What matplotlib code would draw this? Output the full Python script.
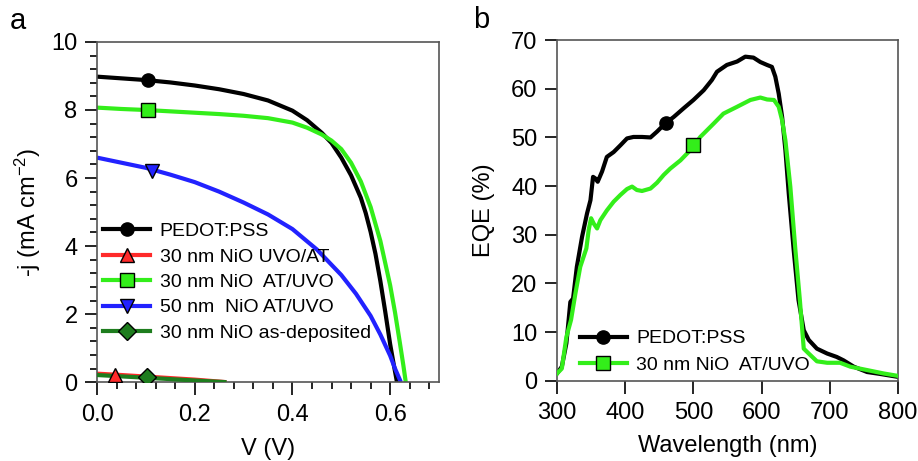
import matplotlib; matplotlib.use("Agg")
import matplotlib.pyplot as plt
from matplotlib.lines import Line2D
from matplotlib.ticker import MultipleLocator

plt.rcParams["font.family"] = ["Liberation Sans", "DejaVu Sans"]
plt.rcParams["mathtext.default"] = "regular"

# ---- panel a: J-V curves ----
v_pedot = [0, 0.05, 0.1, 0.15, 0.2, 0.25, 0.3, 0.35, 0.4, 0.43, 0.46, 0.48, 0.5, 0.52, 0.54, 0.55, 0.56, 0.57, 0.58, 0.59, 0.6, 0.607, 0.614]
j_pedot = [8.98, 8.93, 8.88, 8.81, 8.72, 8.61, 8.47, 8.28, 7.98, 7.70, 7.33, 7.03, 6.60, 6.08, 5.42, 4.97, 4.42, 3.77, 2.97, 2.07, 1.12, 0.55, 0]
v_at30 = [0, 0.05, 0.1, 0.15, 0.2, 0.25, 0.3, 0.35, 0.4, 0.43, 0.46, 0.48, 0.5, 0.52, 0.54, 0.56, 0.58, 0.6, 0.61, 0.62, 0.627, 0.632]
j_at30 = [8.07, 8.03, 8.00, 7.96, 7.92, 7.88, 7.83, 7.76, 7.63, 7.48, 7.28, 7.10, 6.85, 6.45, 5.90, 5.15, 4.15, 2.85, 2.05, 1.15, 0.50, 0]
v_at50 = [0, 0.05, 0.1, 0.15, 0.2, 0.25, 0.3, 0.35, 0.4, 0.45, 0.5, 0.53, 0.56, 0.58, 0.6, 0.61, 0.622]
j_at50 = [6.60, 6.45, 6.30, 6.10, 5.88, 5.60, 5.28, 4.93, 4.50, 3.90, 3.15, 2.60, 1.95, 1.40, 0.78, 0.40, 0]
v_low = [0, 0.05, 0.1, 0.15, 0.2, 0.265]
j_uvo = [0.25, 0.21, 0.165, 0.12, 0.075, 0]
j_asdep = [0.21, 0.17, 0.13, 0.09, 0.05, 0]

jv_labels = ["PEDOT:PSS", "30 nm NiO UVO/AT", "30 nm NiO  AT/UVO", "50 nm  NiO AT/UVO", "30 nm NiO as-deposited"]
jv_colors = ["black", "#ff2a2a", "#33ee1a", "#2222ff", "#1e7d1e"]
jv_markers = ["o", "^", "s", "v", "D"]
mark_v = [0.105, 0.037, 0.105, 0.113, 0.102]
mark_j = [8.88, 0.22, 8.00, 6.22, 0.14]

# ---- panel b: EQE ----
wl_pedot = [300, 307, 313.7, 317, 319.5, 323.5, 329, 336.7, 344, 349, 352.8, 356, 359.6, 366, 373, 383, 393, 402.6, 412, 424.6, 437, 446.6, 458.8, 471, 485.7, 500, 515, 527, 534.5, 549, 564, 576, 588, 598, 607.8, 615, 620, 625, 630, 634.8, 639.7, 647, 654, 661.7, 669, 681, 696, 710, 720, 735, 754.6, 774, 800]
eqe_pedot = [1.5, 2.9, 7.7, 12.5, 16.2, 16.9, 23.4, 29.6, 34.4, 37.1, 41.9, 41.6, 40.9, 43, 46, 47, 48.4, 49.8, 50.1, 50.1, 50, 51.2, 52.9, 54.2, 56, 57.7, 59.7, 61.8, 63.5, 64.9, 65.6, 66.6, 66.4, 65.5, 64.9, 64.5, 62.5, 59, 54.2, 47.4, 38.5, 26.8, 16.6, 10.4, 8.4, 6.6, 5.6, 4.9, 4.2, 2.9, 1.8, 1.4, 0.8]
wl_nio = [300, 307, 313.7, 320.5, 327, 334, 343, 346.4, 349.9, 353.8, 358.7, 363.5, 373, 383, 393, 402.6, 410, 417, 424.6, 437, 446.6, 456.4, 466, 481, 495.5, 510, 530, 544, 564, 583.5, 598, 608, 618, 625, 630, 634.8, 642, 649.5, 656, 661.7, 669, 681, 696, 715, 730, 754.6, 779, 800]
eqe_nio = [1.5, 2.5, 9, 12.5, 18, 23.4, 27.2, 31, 33.4, 32.3, 31.3, 33, 35, 36.8, 38.2, 39.4, 39.9, 39.2, 39, 39.5, 40.7, 42.3, 43.6, 45.3, 47.4, 50.1, 52.9, 54.9, 56.3, 57.7, 58.2, 57.8, 57.7, 56.3, 53.5, 49.4, 39.9, 26.8, 16.6, 6.6, 5.6, 4.0, 3.7, 3.7, 2.9, 2.2, 1.5, 1.0]
eqe_labels = ["PEDOT:PSS", "30 nm NiO  AT/UVO"]
eqe_colors = ["black", "#33ee1a"]
eqe_markers = ["o", "s"]
eqe_mark_wl = [459.8, 499.4]
eqe_mark_val = [52.9, 48.4]

LW = 3.0; MS = 9.5; FS = 17; LFS = 14; SPINE = "#555555"

fig = plt.figure(figsize=(9.18, 4.61), dpi=100)
axa = fig.add_axes([0.1057, 0.171, 0.3725, 0.738])
axb = fig.add_axes([0.6068, 0.174, 0.3715, 0.739])

def style(ax):
    for s in ax.spines.values():
        s.set_color(SPINE); s.set_linewidth(1.2)
    ax.tick_params(which="major", direction="out", length=9, width=1.2, labelsize=FS, color="black")
    ax.tick_params(which="minor", direction="out", length=5, width=1.2, color="black")
    ax.tick_params(axis="x", which="major", pad=6.5)
    ax.tick_params(axis="y", which="major", pad=5)

series_a = [(v_pedot, j_pedot), (v_low, j_uvo), (v_at30, j_at30), (v_at50, j_at50), (v_low, j_asdep)]
order = [0, 2, 3, 1, 4]
for i in order:
    v, j = series_a[i]
    axa.plot(v, j, color=jv_colors[i], lw=LW, solid_capstyle="butt", zorder=2 + (i == 4))
for i in range(5):
    axa.plot([mark_v[i]], [mark_j[i]], ls="none", marker=jv_markers[i], ms=MS, mfc=jv_colors[i], mec="black", mew=1, zorder=5)
axa.set_xlim(0, 0.7); axa.set_ylim(0, 10)
axa.xaxis.set_minor_locator(MultipleLocator(0.04))
axa.yaxis.set_major_locator(MultipleLocator(2)); axa.yaxis.set_minor_locator(MultipleLocator(0.4))
axa.set_xticks([0, 0.2, 0.4, 0.6]); axa.set_xticklabels(["0.0", "0.2", "0.4", "0.6"])
style(axa)
axa.set_xlabel("V (V)", fontsize=FS, labelpad=9)
axa.set_ylabel("-j (mA cm$^{-2}$)", fontsize=FS, labelpad=6)
ha = [Line2D([], [], color=jv_colors[i], lw=LW, marker=jv_markers[i], ms=MS, mfc=jv_colors[i], mec="black", mew=1) for i in range(5)]
axa.legend(ha, jv_labels, loc="center left", bbox_to_anchor=(0.018, 0.294), frameon=False, fontsize=LFS,
           handlelength=2.4, handletextpad=0.5, labelspacing=0.4, borderpad=0, borderaxespad=0)

axb.plot(wl_pedot, eqe_pedot, color=eqe_colors[0], lw=LW, zorder=2)
axb.plot(wl_nio, eqe_nio, color=eqe_colors[1], lw=LW, zorder=3)
for i in range(2):
    axb.plot([eqe_mark_wl[i]], [eqe_mark_val[i]], ls="none", marker=eqe_markers[i], ms=MS, mfc=eqe_colors[i], mec="black", mew=1, zorder=5)
axb.set_xlim(300, 800); axb.set_ylim(0, 70)
axb.xaxis.set_major_locator(MultipleLocator(100)); axb.yaxis.set_major_locator(MultipleLocator(10))
style(axb)
axb.set_xlabel("Wavelength (nm)", fontsize=FS, labelpad=8)
axb.set_ylabel("EQE (%)", fontsize=FS, labelpad=12)
hb = [Line2D([], [], color=eqe_colors[i], lw=LW, marker=eqe_markers[i], ms=MS, mfc=eqe_colors[i], mec="black", mew=1) for i in range(2)]
axb.legend(hb, eqe_labels, loc="center left", bbox_to_anchor=(0.067, 0.085), frameon=False, fontsize=LFS,
           handlelength=2.4, handletextpad=0.5, labelspacing=0.45, borderpad=0, borderaxespad=0)

fig.text(18 / 918, 1 - 21 / 461, "a", fontsize=21, ha="center", va="center")
fig.text(481 / 918, 1 - 20 / 461, "b", fontsize=21, ha="center", va="center")

fig.savefig("out.png", dpi=100)
